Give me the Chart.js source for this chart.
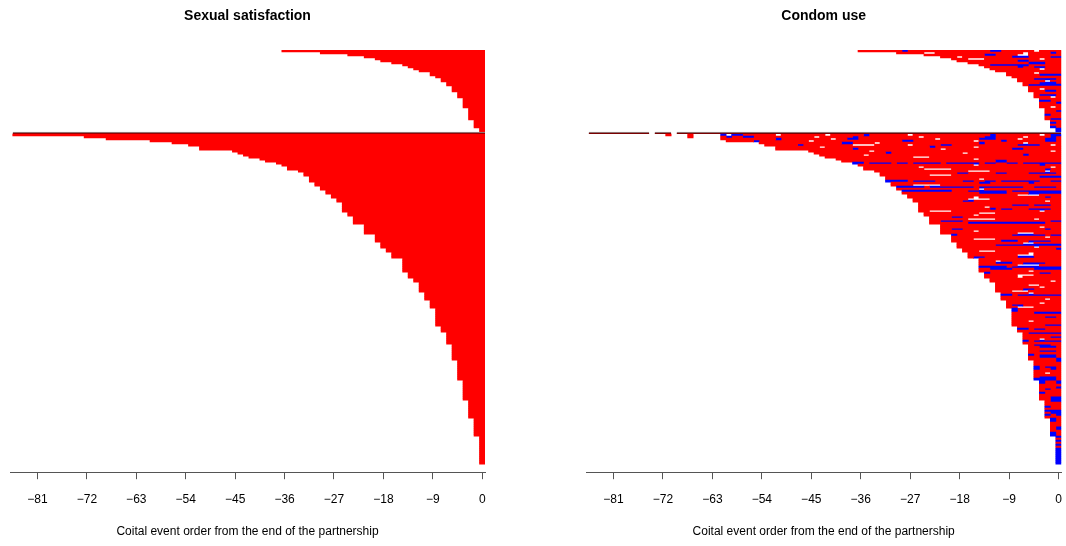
<!DOCTYPE html>
<html>
<head>
<meta charset="utf-8">
<script src="https://cdn.jsdelivr.net/npm/chart.js@4.4.1/dist/chart.umd.min.js"></script>
<style>
  html, body { margin: 0; padding: 0; background: #fff; }
  #wrap { position: relative; width: 1066px; height: 546px; overflow: hidden; }
  canvas { position: absolute; top: 0; }
</style>
</head>
<body>
<div id="wrap">
  <canvas id="left" width="533" height="546" style="left:0"></canvas>
  <canvas id="right" width="542" height="546" style="left:533px"></canvas>
</div>
<script>
// ---------------- DATA ----------------
const panelTitles = ["Sexual satisfaction", "Condom use"];
const xAxisTitle = "Coital event order from the end of the partnership";
const tickValues = [-81, -72, -63, -54, -45, -36, -27, -18, -9, 0];
const tickLabels = ["\u221281", "\u221272", "\u221263", "\u221254", "\u221245", "\u221236", "\u221227", "\u221218", "\u22129", "0"];

// number of coital events per partnership (rows, top to bottom)
const partnershipLengths = [
  37,30,25,22,20,19,17,15,14,13,12,10,10,9,8,8,7,7,6,6,6,5,5,5,4,4,4,4,4,3,3,3,3,3,3,2,2,2,2,1,1,
  86,
  86,73,69,61,57,54,52,52,46,45,44,43,41,40,38,
  37,36,36,34,33,33,32,32,32,31,31,30,30,29,29,28,28,27,27,
  26,26,26,26,26,25,25,24,24,24,24,22,22,22,22,22,20,20,20,20,
  19,19,19,18,18,17,17,17,15,15,15,15,15,15,15,14,14,14,13,13,
  12,12,12,12,12,11,11,11,11,10,10,10,10,
  9,9,9,9,9,9,9,9,9,8,8,8,7,7,7,7,7,7,6,6,6,6,6,6,6,6,
  5,5,5,5,5,5,5,5,5,5,4,4,4,4,4,4,4,4,4,4,
  3,3,3,3,3,3,3,3,3,2,2,2,2,2,2,2,2,2,
  1,1,1,1,1,1,1,1,1,1,1,1,1,1
];
// empty rows kept below the last partnership
const emptyRowsBelow = ["e1", "e2", "e3", "e4"];

// sexual satisfaction: every event in one state; one row in the dark state
const satisfactionDarkRows = [41];

// condom use per event (r = no condom, b = condom, . = missing, k = dark row)
const condomUse = [
  "rrrrrrr rbrrrrrrrr rrrrrrrbbr rrrrr.rrrr",
  "rrrrr..rrr rrrrrrrrrr rrr.rrrrbr",
  "rrrrr rrrrrrbbrr rr..rrrrrr",
  "rr r.rrrrrrrr rbbbrrrrbb",
  "rrr...rrrr rrrrrr.rrr",
  "rrrrrrrrr rrbbrrrrrr",
  "rrrrrrr rrrrbbbrrr",
  "rrbbb bbbbrrrrrr",
  "rrrr rrbrrbbrrr",
  "rrr rrrrrr.rrr",
  "rr rrrrrrrrrr",
  "rrrrr.rrrr",
  "rrrrrrbbbb",
  "rrrrrrrrr",
  "rrrbbbbr",
  "rrrrr.rr",
  "rrrbbbr",
  "rbbbbbb",
  "rrrrrr",
  "rr.rrr",
  "rrrbbr",
  "rrrrr",
  "rbbbr",
  "rrr.r",
  "rrrr",
  "bbrr",
  "rrrb",
  "rrrr",
  "rr.r",
  "rrr",
  "rrb",
  "rrr",
  "brr",
  "rrr",
  "rbb",
  "rr",
  "br",
  "rr",
  "br",
  "b",
  "b",
  "kkkkkk kkkkk.kkk. kkkkkkkkkk kkkkkkkkkk kkkkkkkkkk kkkkkkkkkk kkkkkkkkkk kkkkkkkkkk kkkkkkkkkk",
  "...... ........r. ..r.....b. bbrrrrrr.r rrrrrrr.rr rrrrbrrrrr rr.rrrrrrr rrrrrrrbrr rrrrrr.rbb",
  "... ..r.....rb rrbbrrrrrr rrrrr.rrrr rrbrrrrrrr rrrr.rrrrr rrrrrrbbrr rrr.rrrrbr",
  ".......rr rrrrrrrrbr rrrrrrrr.r rbbrrrrrrr rrrrrrr.rr rrrrrbbbrr rr.rrrrbbr",
  "r rrrrbrrrrr rrrr.rrrrr rrrrrrrrrr rbbrrrrrrr rrrr.rrrrb rrrrrrrbbr",
  "..rrrrr rrrrrrrrrr bbrrrr.rrr rrrrrrrrrr rrrrrbrrrr rrr.rrrrrr",
  "rrrr rrbrrrrrrr rr....rrrr rr.rrrrrbb rrrrrrrrrr rrbbbbrr.r",
  "rr rrrrrr.rrr rrrrrrrrrr rrrrrrbrrr rrrr.rrrrr rrrrrrrrrr",
  "rr rrrrrrrrrr rrbrrrrrrr rrrrrrrr.r rrrrrrrrrr rbbrrrrrrr",
  "rrrrrr rrrrr.rrrr rrrrrrrrrr rrrrrrrrrr rrrrrrrr.r",
  "rrrrr rrrrrrrrbr rrrrrrrrrr rr.rrrrrrr rrrrrrrrrr",
  "rrrr rrrr.rrrrr rrrrrrrrrr rrrrrrrrrr rrrbrrrrrr",
  "rrr rrrrrrrrrr rrr...rrrr rrrrrrrrrr rrrrrrrrrr",
  "r rrrrrrrrrr rrrrrrrrrr rrrr.rrrrr rrrrrrrrrr",
  "rrrrrrrrrr rrrrrrrrrr rrrrrrrrbb rrrrrrrrrr",
  "bbrbbbbr bbrbbbbbrb bbbbbrbbrr bbrbbbbbbb",
  "rrrrrrr rrrrrrrrrr rrrr.rrrrr rrrrrrbrrr",
  "rrrrrr rrrr.rrrrr rrrrrrrrrr rrrrrrrr.r",
  "rrrrrr rrrrr..... rrrrrrrrrr rrrrrrrbrr",
  "rrrr rrrrrrrrrr rrr....rrr rrrrrrr.rr",
  "rrr rrrrrrrrrr rbbrrrrrbb rrrrbbbbbr",
  "rrr rrrrrr.... rrrrrrrrrr rrrrrrrrrr",
  "rr rrrrrrrrrr rrrrrrrrrr rrrrrrbbbb",
  "rr rrrrrrrrrr rrrrr.rrrr rrrrrrrrrr",
  "bb bbrbbbbrrr rrbbrrbbrb bbbbbbrrbb",
  "r rrrrrrrrrr rrrrrbbrrr rrrrbrrrrr",
  "r rrr.....rr rrrrrrrrrr rrrrrrrrrr",
  "bbbbbrbbbb bbbbrbbbbb bbbrrbbbbr",
  "rrrrrrrrrr rrrrr.rrrr rrrrrrrrrr",
  "bbbbbbbbb rrrbbbbbbb rbbbbbbbbb",
  "rrrrrrrrr rrrrrbbbbb rrrrbbbbbb",
  "rrrrrrrr rrrrrrrrrr rr....rrrr",
  "rrrrrrrr rrrr.rrrrr rrrrrrrbrr",
  "rrrrrrr rrr....rrr rrrrrrrrrr",
  "rrrrrrr rrbbrrrrrr rrrrrrr.rr",
  "rrrrrr rrrrrrrrrr rrrrrrrrrr",
  "rrrrrr rrrrrrrrrr rbbbrbbbrr",
  "rrrrrr rrrrrr.rrr rrrrrrrrrr",
  "rrrrrr rrrrrrrbrb brrrbbbbrr",
  "rr.... rrrrrrrrrr rrrrrr.rrr",
  "rrrrr rrrrr...rr rrrrrrrrrr",
  "rrrrr rrrr.rrrrr rrrrrrrrrr",
  "rrrr bbrrrrrrrr rrrrrrrrrr",
  "rrrr rrr.....rr rrrrr.rrrr",
  "rrbb bbrrrrrrrr rrrrrrrrbb",
  "rrrr rrrbbbbbbb bbbbbbbrrr",
  "rr rrrrrrrrrr rrrrrrrrrr",
  "rr rrrrrrrrrr rrrrrr.rrr",
  "rr bbrrrrrrrr rrrrrrrbrr",
  "rr rrrr.rrrrr rrrrrrrrrr",
  "rr rrrrrrrrrr rr...rrrrr",
  "brrrrrrrrr rbbbbbbrbb",
  "rrrrrrrrrr rrrrrrr.rr",
  "rrrr....rr rrrrrrrrrr",
  "rrrrrrrrrb bbrrbbbbrr",
  "rrrrrrrrr rrr..rrrrr",
  "rrrrrrrbb bbbbbbbbbb",
  "rrrrrrrrr rrrrr.rrrr",
  "rrrrrrrr rrrrrrrrrb",
  "rrr...rr rrrrrrrrrr",
  "rrrrrrr rrrr.rrrrr",
  "rrrrrrr rr...rrrrr",
  "rbbrrrr rrbbbrrrrr",
  "rrrrr rrrrrrrrrr",
  "rrr.r rrrrrrrrrr",
  "rrrbb brrbbbbrrr",
  "rrrrr rr....rrrr",
  "bbbbb rbbbbbbbbb",
  "rrbbb brrrrbbbbb",
  "rrrrr rrrr.rrrrr",
  "brrr rrrrrrbbrr",
  "rrrr rr...rrrrr",
  "rrrr rr.rrrrrrr",
  "rrr rrrrrrrrrr",
  "rrr rrrrrrrr.r",
  "rr rrrrrrrrrr",
  "rr rrrr..rrrr",
  "rr rrrrrr.rrr",
  "rr rrrbbrrrrr",
  "rr r...rrrrrr",
  "r rrrr.rrrrr",
  "b brbbbbbbbb",
  "r rrrrrrrrrr",
  "r rrrrrrr.rr",
  "rrrrrrrrrr",
  "rrrrrr.rrr",
  "rbbrrrrrrr",
  "rr...rrrrr",
  "brrrrrrrr",
  "brrrrrrrr",
  "rrrrbbbbb",
  "rrrrrrrrr",
  "rrrrrrbbr",
  "rrrrrrrrr",
  "rrr.rrrrr",
  "rrrrrrrrr",
  "rrrrrrbbb",
  "rrrrrrrr",
  "bbrbbrrr",
  "rrrrrrrr",
  "rbbbbbb",
  "rrrrrrr",
  "rrrrrbb",
  "rrr.rrr",
  "brbbbbb",
  "rrrrrrr",
  "rbbbrr",
  "rrbbbr",
  "rrrrrr",
  "rrbbbr",
  "rrrrrr",
  "brbbbr",
  "rrbbbr",
  "rrrrrb",
  "rrrrb",
  "rrrrr",
  "rrrrr",
  "brbbr",
  "brrbr",
  "rrrrr",
  "rr.rr",
  "rrrrr",
  "rbbbr",
  "bbbbr",
  "brrb",
  "brrb",
  "rrrr",
  "rrrb",
  "rbrr",
  "rrrr",
  "brrr",
  "rrrr",
  "rrbb",
  "rrbb",
  "rbb",
  "rrr",
  "rrr",
  "brr",
  "rrr",
  "bbb",
  "rbb",
  "brb",
  "rrr",
  "br",
  "br",
  "rr",
  "rr",
  "rb",
  "rb",
  "rr",
  "br",
  "br",
  "b","r","b","r","b","r","b","b","b","b","b","b","b","b"
];

// ---------------- STYLE ----------------
const stateColors = { r: "#FF0000", b: "#0000FF", k: "#7a0000" };
const darkBorder = "#9a9a9a";
const FONT = "'Liberation Sans', Arial, Helvetica, sans-serif";

// ---------------- BUILD ----------------
const rowLabels = partnershipLengths.map((_, k) => "row" + k).concat(emptyRowsBelow);

function satisfactionDatasets() {
  const data = partnershipLengths.map((L, k) => ({
    x: [-L + 0.5, 0.5], y: "row" + k, s: satisfactionDarkRows.includes(k) ? "k" : "r"
  }));
  return [barDataset(data)];
}

function condomDatasets() {
  const runsByRow = condomUse.map((raw, k) => {
    const s = raw.replace(/\s+/g, "");
    const L = partnershipLengths[k];
    const n = s.length;
    const runs = [];
    let p = 0;
    while (p < n) {
      const c = s[p];
      let q = p;
      while (q + 1 < n && s[q + 1] === c) q++;
      if (c !== ".") {
        const jStart = Math.min(n - 1 - p, L - 1);
        const jEnd = n - 1 - q;
        if (jEnd <= L - 1) runs.push({ x: [-jStart - 0.5, -jEnd + 0.5], y: "row" + k, s: c });
      }
      p = q + 1;
    }
    return runs;
  });
  const maxRuns = Math.max(...runsByRow.map(r => r.length));
  const sets = [];
  for (let r = 0; r < maxRuns; r++) {
    const data = [];
    runsByRow.forEach(runs => { if (runs[r]) data.push(runs[r]); });
    sets.push(barDataset(data));
  }
  return sets;
}

function barDataset(data) {
  return {
    data,
    grouped: false,
    barPercentage: 1,
    categoryPercentage: 1,
    borderSkipped: false,
    backgroundColor: ctx => stateColors[ctx.raw ? ctx.raw.s : "r"],
    borderColor: darkBorder,
    borderWidth: ctx => (ctx.raw && ctx.raw.s === "k") ? { top: 1, bottom: 0, left: 0, right: 0 } : 0
  };
}

function makeChart(id, datasets, title, padLeft, padRight) {
  return new Chart(document.getElementById(id), {
    type: "bar",
    data: { labels: rowLabels, datasets },
    options: {
      indexAxis: "y",
      responsive: false,
      animation: false,
      devicePixelRatio: 1,
      events: [],
      layout: { padding: { left: padLeft, right: padRight, top: 0, bottom: 7 } },
      plugins: {
        legend: { display: false },
        tooltip: { enabled: false },
        title: {
          display: true, text: title, fullSize: false, color: "#000",
          font: { family: FONT, size: 14, weight: "bold" },
          padding: { top: 8, bottom: 25.2 }
        }
      },
      scales: {
        x: {
          type: "linear", min: -86, max: 0.5,
          afterBuildTicks: s => { s.ticks = tickValues.map(v => ({ value: v })); },
          ticks: {
            autoSkip: false, maxRotation: 0, padding: 13, color: "#000",
            font: { family: FONT, size: 12 },
            callback: v => tickLabels[tickValues.indexOf(v)]
          },
          grid: { drawOnChartArea: false, drawTicks: true, tickLength: 7, color: "#555", tickWidth: 1 },
          border: { display: true, color: "#555", width: 1 },
          title: {
            display: true, text: xAxisTitle, color: "#000",
            font: { family: FONT, size: 12 }, padding: { top: 5, bottom: 0 }
          }
        },
        y: { type: "category", offset: true, display: false }
      }
    }
  });
}

makeChart("left", satisfactionDatasets(), panelTitles[0], 10, 48);
makeChart("right", condomDatasets(), panelTitles[1], 53, 5);
</script>
</body>
</html>
